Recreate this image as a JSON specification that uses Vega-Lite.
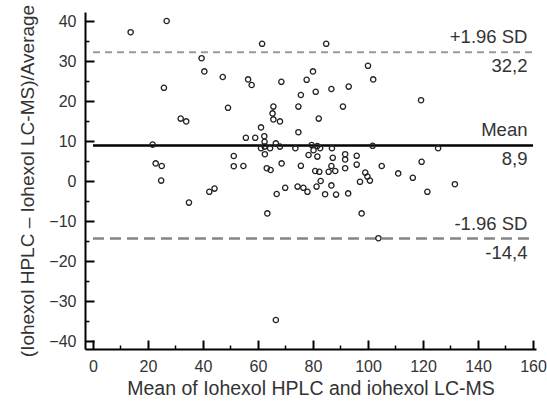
{
  "$schema": "https://vega.github.io/schema/vega-lite/v6.json",
  "width": 451,
  "height": 337,
  "autosize": {"type": "none"},
  "padding": {"left": 85, "top": 12, "right": 11, "bottom": 59},
  "background": "white",
  "config": {
    "view": {"stroke": null},
    "font": "Liberation Sans",
    "axis": {
      "grid": false,
      "domainColor": "#000",
      "domainWidth": 2,
      "tickColor": "#000",
      "tickWidth": 2,
      "labelColor": "#333",
      "labelFontSize": 16,
      "titleColor": "#333",
      "titleFontSize": 19.5,
      "titleFontWeight": "normal"
    }
  },
  "datasets": {
    "points": [
      {"m": 13.7, "d": 37.2}, {"m": 26.8, "d": 40.0}, {"m": 39.5, "d": 30.7}, {"m": 40.5, "d": 27.4},
      {"m": 47.2, "d": 26.0}, {"m": 25.8, "d": 23.3}, {"m": 49.1, "d": 18.3}, {"m": 31.9, "d": 15.6},
      {"m": 33.9, "d": 14.9}, {"m": 61.5, "d": 34.3}, {"m": 84.8, "d": 34.3}, {"m": 100.0, "d": 28.8},
      {"m": 101.9, "d": 25.4}, {"m": 56.4, "d": 25.4}, {"m": 57.7, "d": 24.0}, {"m": 68.5, "d": 24.8},
      {"m": 80.0, "d": 27.4}, {"m": 77.7, "d": 25.3}, {"m": 81.0, "d": 22.3}, {"m": 75.6, "d": 21.5},
      {"m": 86.7, "d": 23.0}, {"m": 93.0, "d": 23.6}, {"m": 65.6, "d": 18.6}, {"m": 74.7, "d": 18.6},
      {"m": 90.9, "d": 18.6}, {"m": 65.3, "d": 16.9}, {"m": 65.6, "d": 15.4}, {"m": 68.0, "d": 14.9},
      {"m": 82.1, "d": 15.6}, {"m": 61.1, "d": 13.4}, {"m": 74.7, "d": 12.2}, {"m": 55.6, "d": 10.8},
      {"m": 59.0, "d": 10.8}, {"m": 62.3, "d": 11.2}, {"m": 119.3, "d": 20.2}, {"m": 21.7, "d": 9.1},
      {"m": 22.8, "d": 4.4}, {"m": 25.0, "d": 3.75}, {"m": 24.8, "d": 0.1}, {"m": 34.9, "d": -5.4},
      {"m": 42.3, "d": -2.7}, {"m": 44.2, "d": -1.9}, {"m": 51.2, "d": 6.25}, {"m": 51.2, "d": 3.7},
      {"m": 54.7, "d": 3.75}, {"m": 61.1, "d": 8.2}, {"m": 62.4, "d": 9.8}, {"m": 62.4, "d": 8.6},
      {"m": 62.5, "d": 6.7}, {"m": 64.4, "d": 8.2}, {"m": 66.5, "d": 9.4}, {"m": 68.0, "d": 8.6},
      {"m": 63.2, "d": 3.2}, {"m": 64.6, "d": 2.75}, {"m": 68.6, "d": 4.4}, {"m": 73.6, "d": 8.2},
      {"m": 75.6, "d": 3.8}, {"m": 66.8, "d": -3.25}, {"m": 69.9, "d": -1.7}, {"m": 74.4, "d": -1.4},
      {"m": 76.5, "d": -1.7}, {"m": 78.0, "d": -2.7}, {"m": 63.4, "d": -8.1}, {"m": 78.4, "d": 6.5},
      {"m": 79.5, "d": 9.0}, {"m": 80.2, "d": 7.7}, {"m": 81.6, "d": 8.75}, {"m": 82.6, "d": 8.2},
      {"m": 81.6, "d": 6.1}, {"m": 86.9, "d": 8.2}, {"m": 87.2, "d": 5.8}, {"m": 80.8, "d": 2.5},
      {"m": 82.3, "d": 2.3}, {"m": 82.8, "d": 0.0}, {"m": 81.3, "d": -1.4}, {"m": 84.4, "d": -3.3},
      {"m": 86.7, "d": 3.75}, {"m": 85.7, "d": 2.3}, {"m": 88.1, "d": 2.5}, {"m": 86.7, "d": -1.1},
      {"m": 88.4, "d": -3.4}, {"m": 91.7, "d": 6.7}, {"m": 91.7, "d": 5.4}, {"m": 91.7, "d": 3.2},
      {"m": 92.8, "d": -3.1}, {"m": 95.9, "d": 6.3}, {"m": 95.9, "d": 4.1}, {"m": 97.1, "d": -0.2},
      {"m": 99.0, "d": 2.1}, {"m": 99.8, "d": 1.1}, {"m": 100.7, "d": 0.1}, {"m": 97.7, "d": -8.1},
      {"m": 101.7, "d": 8.8}, {"m": 103.8, "d": -14.3}, {"m": 125.5, "d": 8.2}, {"m": 105.0, "d": 3.75},
      {"m": 111.0, "d": 1.9}, {"m": 116.3, "d": 0.8}, {"m": 119.5, "d": 4.8}, {"m": 121.6, "d": -2.7},
      {"m": 131.6, "d": -0.8}, {"m": 66.5, "d": -34.75}
    ],
    "limits": [
      {"stat": "+1.96 SD", "value": 32.2, "label": "32,2"},
      {"stat": "Mean", "value": 8.9, "label": "8,9"},
      {"stat": "-1.96 SD", "value": -14.4, "label": "-14,4"}
    ]
  },
  "resolve": {"axis": {"x": "independent", "y": "independent"}},
  "layer": [
    {
      "data": {"name": "points"},
      "mark": {"type": "point", "opacity": 0},
      "encoding": {
        "x": {"field": "m", "type": "quantitative",
              "scale": {"domain": [-2.9, 161.1], "nice": false, "zero": false},
              "axis": {"orient": "bottom", "values": [10, 30, 50, 70, 90, 110, 130, 150], "labels": false, "domain": false, "tickSize": -4, "tickWidth": 1.5, "title": null}},
        "y": {"field": "d", "type": "quantitative",
              "scale": {"domain": [-42, 42.25], "nice": false, "zero": false},
              "axis": {"orient": "left", "values": [-35, -25, -15, -5, 5, 15, 25, 35], "labels": false, "domain": false, "tickSize": -4, "tickWidth": 1.5, "title": null}}
      }
    },
    {
      "data": {"name": "limits"},
      "transform": [{"filter": "datum.stat === '+1.96 SD'"}],
      "mark": {"type": "rule", "stroke": "#9a9a9a", "strokeWidth": 2, "strokeDash": [7, 5]},
      "encoding": {
        "y": {"field": "value", "type": "quantitative", "scale": {"domain": [-42, 42.25], "nice": false, "zero": false}, "axis": null},
        "x": {"datum": 0, "type": "quantitative", "scale": {"domain": [-2.9, 161.1], "nice": false, "zero": false}, "axis": null},
        "x2": {"datum": 160}
      }
    },
    {
      "data": {"name": "limits"},
      "transform": [{"filter": "datum.stat === '-1.96 SD'"}],
      "mark": {"type": "rule", "stroke": "#858585", "strokeWidth": 2.5, "strokeDash": [11, 6]},
      "encoding": {
        "y": {"field": "value", "type": "quantitative", "scale": {"domain": [-42, 42.25], "nice": false, "zero": false}, "axis": null},
        "x": {"datum": 0, "type": "quantitative", "scale": {"domain": [-2.9, 161.1], "nice": false, "zero": false}, "axis": null},
        "x2": {"datum": 160}
      }
    },
    {
      "data": {"name": "limits"},
      "transform": [{"filter": "datum.stat === 'Mean'"}],
      "mark": {"type": "rule", "stroke": "#000", "strokeWidth": 2.5},
      "encoding": {
        "y": {"field": "value", "type": "quantitative", "scale": {"domain": [-42, 42.25], "nice": false, "zero": false}, "axis": null},
        "x": {"datum": 0, "type": "quantitative", "scale": {"domain": [-2.9, 161.1], "nice": false, "zero": false}, "axis": null},
        "x2": {"datum": 160}
      }
    },
    {
      "data": {"name": "points"},
      "mark": {"type": "point", "shape": "circle", "size": 28, "stroke": "#222", "strokeWidth": 1.3, "filled": false, "opacity": 1},
      "encoding": {
        "x": {"field": "m", "type": "quantitative",
              "scale": {"domain": [-2.9, 161.1], "nice": false, "zero": false},
              "axis": {"orient": "bottom", "values": [0, 20, 40, 60, 80, 100, 120, 140, 160], "tickSize": -9, "labelPadding": 18, "title": "Mean of Iohexol HPLC and iohexol LC-MS", "titlePadding": 5}},
        "y": {"field": "d", "type": "quantitative",
              "scale": {"domain": [-42, 42.25], "nice": false, "zero": false},
              "axis": {"orient": "left", "values": [-40, -30, -20, -10, 0, 10, 20, 30, 40], "tickSize": -9, "labelPadding": 18, "title": "(Iohexol HPLC – Iohexol LC-MS)/Average", "titleFontSize": 19, "titlePadding": 11}}
      }
    },
    {
      "data": {"name": "limits"},
      "mark": {"type": "text", "align": "right", "baseline": "alphabetic", "dy": -9, "fontSize": 18.5, "color": "#333"},
      "encoding": {
        "y": {"field": "value", "type": "quantitative", "scale": {"domain": [-42, 42.25], "nice": false, "zero": false}, "axis": null},
        "x": {"datum": 158, "type": "quantitative", "scale": {"domain": [-2.9, 161.1], "nice": false, "zero": false}, "axis": null},
        "text": {"field": "stat"}
      }
    },
    {
      "data": {"name": "limits"},
      "mark": {"type": "text", "align": "right", "baseline": "alphabetic", "dy": 20, "fontSize": 18.5, "color": "#333"},
      "encoding": {
        "y": {"field": "value", "type": "quantitative", "scale": {"domain": [-42, 42.25], "nice": false, "zero": false}, "axis": null},
        "x": {"datum": 158, "type": "quantitative", "scale": {"domain": [-2.9, 161.1], "nice": false, "zero": false}, "axis": null},
        "text": {"field": "label"}
      }
    }
  ]
}
